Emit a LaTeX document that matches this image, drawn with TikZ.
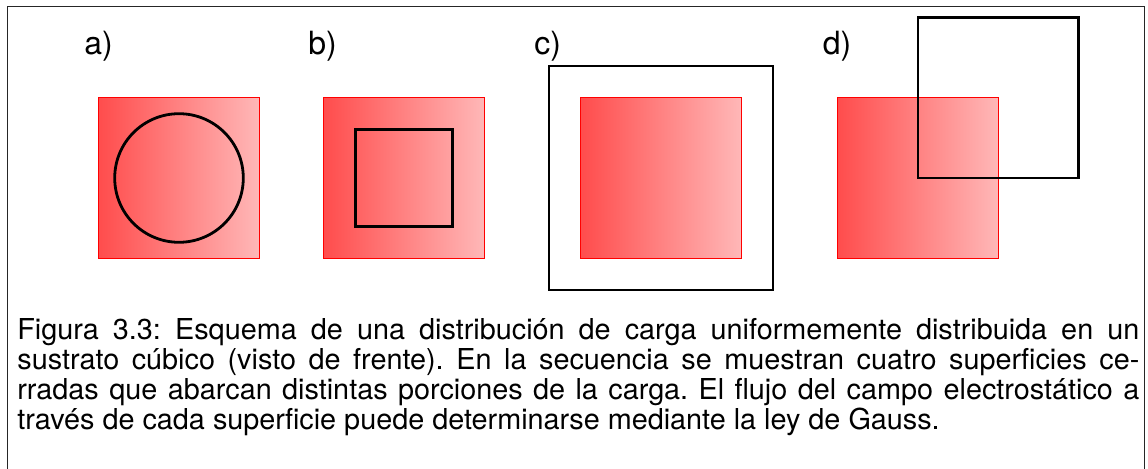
\documentclass[tikz,border=0pt]{standalone}
\usepackage{fontspec}
\setmainfont{TeX Gyre Heros}

\begin{document}
\begin{tikzpicture}[x=0.5pt, y=-0.5pt,
    carga/.style={draw=red, line width=0.5pt, left color=red!70, right color=red!28, minimum size=80.5pt, inner sep=0pt, outer sep=0pt},
    superf/.style={draw=black, line width=1.4pt, inner sep=0pt, outer sep=0pt},
    etiq/.style={anchor=base west, inner sep=0pt, font=\fontsize{16}{19}\selectfont},
    leyenda/.style={anchor=base west, inner sep=0pt, text width=561pt, align=justify, font=\fontsize{14.4}{15}\selectfont\frenchspacing, execute at begin node={\baselineskip=15pt}}]

        \useasboundingbox (0,0) rectangle (1148,469);

        % Marco
        \draw[line width=0.5pt, black!85] (7,469) -- (7,7) -- (1144,7) -- (1144,469);

        % a) superficie esferica
        \node[etiq] (labA) at (84,55) {a)};
        \node[carga] (subA) at (179,178) {};
        \node[superf, circle, minimum size=64.3pt] (supA) at (subA.center) {};

        % b) superficie cubica interior
        \node[etiq] (labB) at (308,55) {b)};
        \node[carga] (subB) at (404,178) {};
        \node[superf, rectangle, minimum size=48.5pt] (supB) at (subB.center) {};

        % c) superficie que encierra toda la carga
        \node[etiq] (labC) at (534,55) {c)};
        \node[carga] (subC) at (661,178) {};
        \node[superf, rectangle, minimum size=112pt] (supC) at (subC.center) {};

        % d) superficie desplazada
        \node[etiq] (labD) at (822.5,55) {d)};
        \node[carga] (subD) at (918,178) {};
        \node[superf, rectangle, minimum size=80.25pt, anchor=south west] (supD) at (subD.center) {};

        % Leyenda
        \node[leyenda] (ley) at (17,340) {Figura 3.3: Esquema de una distribución de carga uniformemente distribuida en un\linebreak sustrato cúbico (visto de frente). En la secuencia se muestran cuatro superficies ce-\linebreak rradas que abarcan distintas porciones de la carga. El flujo del campo electrostático a\linebreak través de cada superficie puede determinarse mediante la ley de Gauss.};

\end{tikzpicture}
\end{document}
